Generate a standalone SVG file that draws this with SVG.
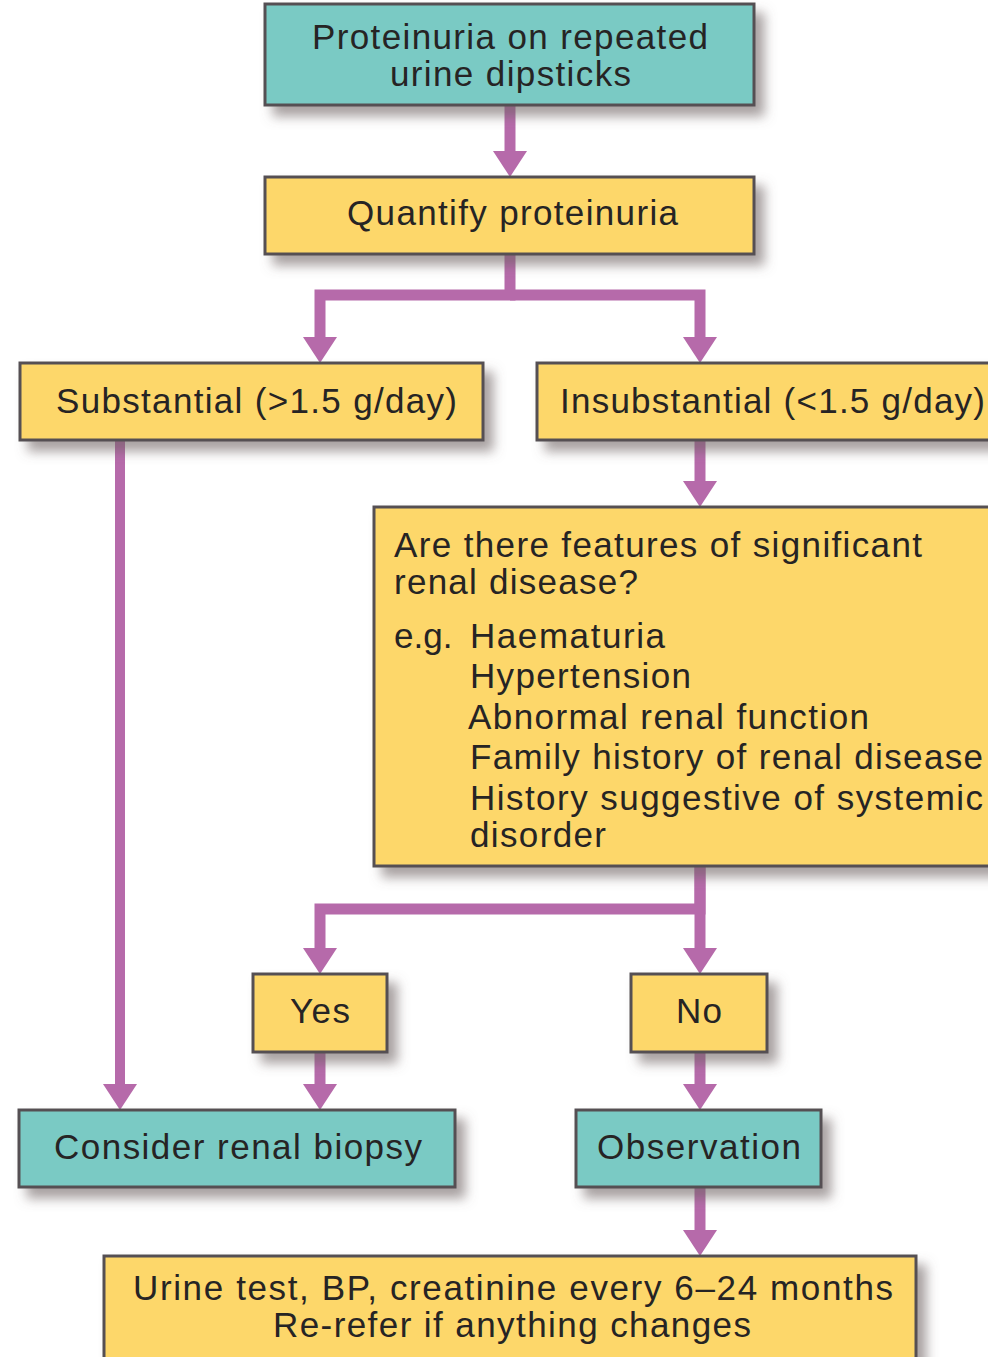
<svg xmlns="http://www.w3.org/2000/svg" width="988" height="1357" viewBox="0 0 988 1357">
<style>
.box{stroke:#555052;stroke-width:3}
.teal{fill:#7ACAC4}
.yel{fill:#FDD76B}
.t{font-family:"Liberation Sans",Arial,sans-serif;font-size:35px;fill:#262424}
.c{stroke:#B66AAA;stroke-width:11;fill:none;stroke-linejoin:miter}
</style>
<defs>
<filter id="sh" x="-10%" y="-20%" width="130%" height="160%">
<feDropShadow dx="9" dy="10" stdDeviation="6" flood-color="#6e6264" flood-opacity="0.6"/>
</filter>
<marker id="ah" markerUnits="userSpaceOnUse" markerWidth="26" markerHeight="34" refX="12" refY="17" orient="auto" viewBox="0 0 26 34">
<path d="M0,0 L26,17 L0,34 Z" fill="#B66AAA"/>
</marker>
</defs>
<g id="connectors">
<path class="c" d="M510,105 V163" marker-end="url(#ah)"/>
<path class="c" d="M510,254 V295 H320 V349" marker-end="url(#ah)"/>
<path class="c" d="M510,295 H700 V349" marker-end="url(#ah)"/>
<path class="c" d="M700,440 V493" marker-end="url(#ah)"/>
<path class="c" d="M700,866 V909 H320 V960" marker-end="url(#ah)"/>
<path class="c" d="M700,866 V960" marker-end="url(#ah)"/>
<path class="c" style="stroke-width:10" d="M120,440 V1096" marker-end="url(#ah)"/>
<path class="c" d="M320,1052 V1096" marker-end="url(#ah)"/>
<path class="c" d="M700,1052 V1096" marker-end="url(#ah)"/>
<path class="c" d="M700,1187 V1242" marker-end="url(#ah)"/>
</g>
<g id="n1">
<rect class="box teal" filter="url(#sh)" x="265" y="4" width="489" height="101"/>
<text class="t"><tspan x="312" y="49" textLength="396" lengthAdjust="spacing">Proteinuria on repeated</tspan><tspan x="390" y="86" textLength="241" lengthAdjust="spacing">urine dipsticks</tspan></text>
</g>
<g id="n2">
<rect class="box yel" filter="url(#sh)" x="265" y="177" width="489" height="77"/>
<text class="t" x="347" y="225" textLength="331" lengthAdjust="spacing">Quantify proteinuria</text>
</g>
<g id="n3">
<rect class="box yel" filter="url(#sh)" x="20" y="363" width="463" height="77"/>
<text class="t" x="56" y="413" textLength="401" lengthAdjust="spacing">Substantial (&gt;1.5 g/day)</text>
</g>
<g id="n4">
<rect class="box yel" filter="url(#sh)" x="537" y="363" width="480" height="77"/>
<text class="t" x="560" y="413" textLength="425" lengthAdjust="spacing">Insubstantial (&lt;1.5 g/day)</text>
</g>
<g id="n5">
<rect class="box yel" filter="url(#sh)" x="374" y="507" width="640" height="359"/>
<text class="t"><tspan x="394" y="557" textLength="528" lengthAdjust="spacing">Are there features of significant</tspan><tspan x="394" y="594" textLength="244" lengthAdjust="spacing">renal disease?</tspan><tspan x="394" y="648">e.g.</tspan><tspan x="470" y="648" textLength="195" lengthAdjust="spacing">Haematuria</tspan><tspan x="470" y="688" textLength="221" lengthAdjust="spacing">Hypertension</tspan><tspan x="468" y="729" textLength="401" lengthAdjust="spacing">Abnormal renal function</tspan><tspan x="470" y="769" textLength="513" lengthAdjust="spacing">Family history of renal disease</tspan><tspan x="470" y="810" textLength="513" lengthAdjust="spacing">History suggestive of systemic</tspan><tspan x="470" y="847" textLength="136" lengthAdjust="spacing">disorder</tspan></text>
</g>
<g id="n6">
<rect class="box yel" filter="url(#sh)" x="253" y="974" width="134" height="78"/>
<text class="t" x="290" y="1023" textLength="60" lengthAdjust="spacing">Yes</text>
</g>
<g id="n7">
<rect class="box yel" filter="url(#sh)" x="631" y="974" width="136" height="78"/>
<text class="t" x="676" y="1023" textLength="46" lengthAdjust="spacing">No</text>
</g>
<g id="n8">
<rect class="box teal" filter="url(#sh)" x="19" y="1110" width="436" height="77"/>
<text class="t" x="54" y="1159" textLength="368" lengthAdjust="spacing">Consider renal biopsy</text>
</g>
<g id="n9">
<rect class="box teal" filter="url(#sh)" x="576" y="1110" width="245" height="77"/>
<text class="t" x="597" y="1159" textLength="204" lengthAdjust="spacing">Observation</text>
</g>
<g id="n10">
<rect class="box yel" filter="url(#sh)" x="104" y="1256" width="812" height="115"/>
<text class="t"><tspan x="133" y="1300" textLength="760" lengthAdjust="spacing">Urine test, BP, creatinine every 6–24 months</tspan><tspan x="273" y="1337" textLength="478" lengthAdjust="spacing">Re-refer if anything changes</tspan></text>
</g>
</svg>
